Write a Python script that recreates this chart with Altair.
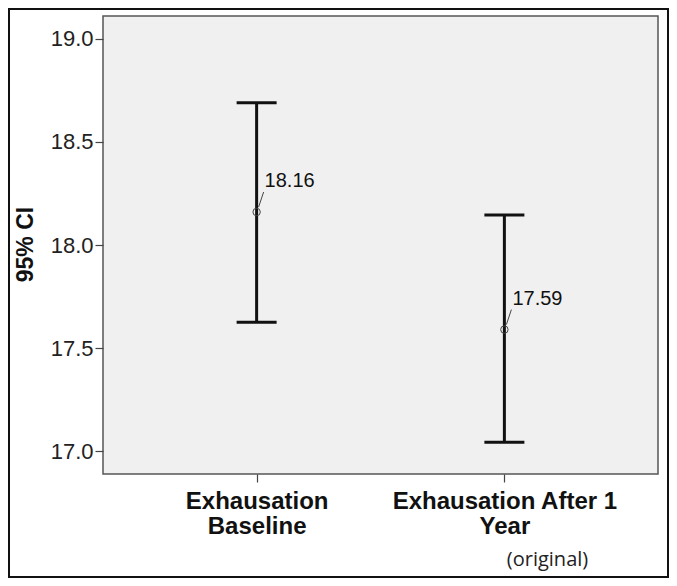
import altair as alt
import pandas as pd

# Data
categories = ["Exhausation Baseline", "Exhausation After 1 Year"]
label_lines = [["Exhausation", "Baseline"], ["Exhausation After 1", "Year"]]
means = [18.16, 17.59]
lower = [17.626, 17.044]
upper = [18.69, 18.146]
y_ticks = [17.0, 17.5, 18.0, 18.5, 19.0]

df = pd.DataFrame({"cat": categories, "mean": means, "lo": lower, "hi": upper})

label_expr = " : ".join(
    [f"datum.label == '{c}' ? {lines!r}" for c, lines in zip(categories, label_lines)]
) + " : datum.label"

FONT = "Liberation Sans"

x_enc = alt.X(
    "cat:N",
    sort=categories,
    scale=alt.Scale(type="point", padding=0.62),
    axis=alt.Axis(
        title="(original)",
        titleFont="Open Sans",
        titleFontWeight="normal",
        titleFontSize=20,
        titleColor="#222",
        titleX=444,
        titleY=91,
        titleBaseline="alphabetic",
        titleAlign="center",
        labelExpr=label_expr,
        labelFont=FONT,
        labelFontWeight="bold",
        labelFontSize=24,
        labelColor="#111",
        labelLineHeight=25,
        labelPadding=7,
        labelAngle=0,
        labelBaseline="top",
        labelLimit=0,
        tickSize=8,
        tickColor="#444",
        tickWidth=1.2,
        domain=False,
    ),
)
y_scale = alt.Scale(domain=[16.89, 19.11], nice=False, zero=False)
y_enc = alt.Y(
    "lo:Q",
    scale=y_scale,
    axis=alt.Axis(
        title="95% CI",
        titleFont=FONT,
        titleFontWeight="bold",
        titleFontSize=23,
        titleColor="#111",
        titleAngle=-90,
        titleX=-78,
        titleY=228,
        titleAlign="center",
        titleBaseline="middle",
        values=y_ticks,
        format=".1f",
        labelFont=FONT,
        labelFontSize=22,
        labelColor="#222",
        labelPadding=2,
        tickSize=8,
        tickColor="#444",
        tickWidth=1.2,
        grid=False,
        domain=False,
    ),
)

base = alt.Chart(df)

rules = base.mark_rule(color="#111", strokeWidth=3).encode(x=x_enc, y=y_enc, y2="hi:Q")
cap_lo = base.mark_tick(color="#111", size=40, thickness=3, opacity=1).encode(
    x=alt.X("cat:N", sort=categories), y=alt.Y("lo:Q", scale=y_scale)
)
cap_hi = base.mark_tick(color="#111", size=40, thickness=3, opacity=1).encode(
    x=alt.X("cat:N", sort=categories), y=alt.Y("hi:Q", scale=y_scale)
)
leader = base.mark_rule(
    color="#444", strokeWidth=1, xOffset=2, x2Offset=7, yOffset=-5, y2Offset=-20
).encode(
    x=alt.X("cat:N", sort=categories),
    x2="cat:N",
    y=alt.Y("mean:Q", scale=y_scale),
    y2="mean:Q",
)
points = base.mark_point(
    shape="circle", size=55, filled=False, color="#444", strokeWidth=1, opacity=1
).encode(x=alt.X("cat:N", sort=categories), y=alt.Y("mean:Q", scale=y_scale))
texts = base.mark_text(
    align="left", baseline="alphabetic", dx=8, dy=-25, font=FONT, fontSize=20, color="#111"
).encode(
    x=alt.X("cat:N", sort=categories),
    y=alt.Y("mean:Q", scale=y_scale),
    text=alt.Text("mean:Q", format=".2f"),
)
frame = alt.Chart(pd.DataFrame({"a": [0]})).mark_rect(
    fill=None, stroke="#111", strokeWidth=2
).encode(
    x=alt.value(-94), x2=alt.value(565), y=alt.value(-7), y2=alt.value(561)
)

chart = (
    alt.layer(rules, cap_lo, cap_hi, leader, points, texts, frame)
    .properties(
        width=555,
        height=458,
        autosize=alt.AutoSizeParams(type="none"),
        padding={"left": 95, "top": 8, "right": 11, "bottom": 104},
        background="white",
    )
    .configure_view(fill="#f0f0f0", stroke="#555", strokeWidth=1.5)
)

chart.save("out.html", embed_options={"renderer": "svg", "actions": False})
